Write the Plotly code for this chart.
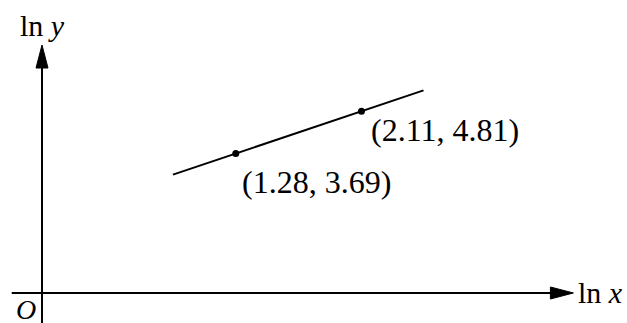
import plotly.graph_objects as go

# fitted line ln y = a + b ln x, drawn between its two ends
line_x = [0.865, 2.52]
line_y = [3.13, 5.36]

# the two marked points
pts_x = [1.28, 2.11]
pts_y = [3.69, 4.81]
pts_text = ["(1.28, 3.69)", "(2.11, 4.81)"]

# axis extents (data units)
x_axis = [-0.2, 3.51]
y_axis = [-0.8, 6.56]

W, H = 627, 323
xr = [-0.2774, 3.864]
yr = [-0.794, 7.751]

FONT = "Liberation Serif, Times New Roman, serif"
BLACK = "#000000"

fig = go.Figure()

fig.add_trace(go.Scatter(x=line_x, y=line_y, mode="lines",
                         line=dict(color=BLACK, width=2), hoverinfo="skip"))
fig.add_trace(go.Scatter(x=pts_x, y=pts_y, mode="markers",
                         marker=dict(color=BLACK, size=7), hoverinfo="skip"))

# axes as lines
fig.add_shape(type="line", x0=x_axis[0], x1=x_axis[1] - 0.05, y0=0, y1=0,
              line=dict(color=BLACK, width=2))
fig.add_shape(type="line", x0=0, x1=0, y0=y_axis[0], y1=y_axis[1] - 0.3,
              line=dict(color=BLACK, width=2))

# arrow heads, drawn in pixels around the axis tips
fig.add_shape(type="path", xsizemode="pixel", ysizemode="pixel",
              xanchor=x_axis[1], yanchor=0,
              path="M0,0 L-23,6 L-23,-6 Z",
              fillcolor=BLACK, line=dict(color=BLACK, width=1))
fig.add_shape(type="path", xsizemode="pixel", ysizemode="pixel",
              xanchor=0, yanchor=y_axis[1],
              path="M0,0 L-6,-23 L6,-23 Z",
              fillcolor=BLACK, line=dict(color=BLACK, width=1))

# point labels
fig.add_annotation(x=pts_x[0], y=pts_y[0], text=pts_text[0], showarrow=False,
                   xanchor="left", yanchor="middle", xshift=4, yshift=-28,
                   font=dict(family=FONT, size=32, color=BLACK))
fig.add_annotation(x=pts_x[1], y=pts_y[1], text=pts_text[1], showarrow=False,
                   xanchor="left", yanchor="middle", xshift=8, yshift=-19,
                   font=dict(family=FONT, size=32, color=BLACK))

# axis labels
fig.add_annotation(x=0, y=y_axis[1], text="ln <i>y</i>", showarrow=False,
                   xanchor="center", yanchor="middle", yshift=20,
                   font=dict(family=FONT, size=30, color=BLACK))
fig.add_annotation(x=x_axis[1], y=0, text="ln <i>x</i>", showarrow=False,
                   xanchor="left", yanchor="middle", xshift=3,
                   font=dict(family=FONT, size=30, color=BLACK))
fig.add_annotation(x=0, y=0, text="<i>O</i>", showarrow=False,
                   xanchor="right", yanchor="top", xshift=-4, yshift=1,
                   font=dict(family=FONT, size=28, color=BLACK))

fig.update_layout(
    width=W, height=H, autosize=False,
    margin=dict(l=0, r=0, t=0, b=0),
    paper_bgcolor="white", plot_bgcolor="white",
    showlegend=False,
    xaxis=dict(range=xr, visible=False, fixedrange=True),
    yaxis=dict(range=yr, visible=False, fixedrange=True),
)

fig.write_html("out.html", config={"displayModeBar": False},
               post_script="document.body.style.margin='0';")
